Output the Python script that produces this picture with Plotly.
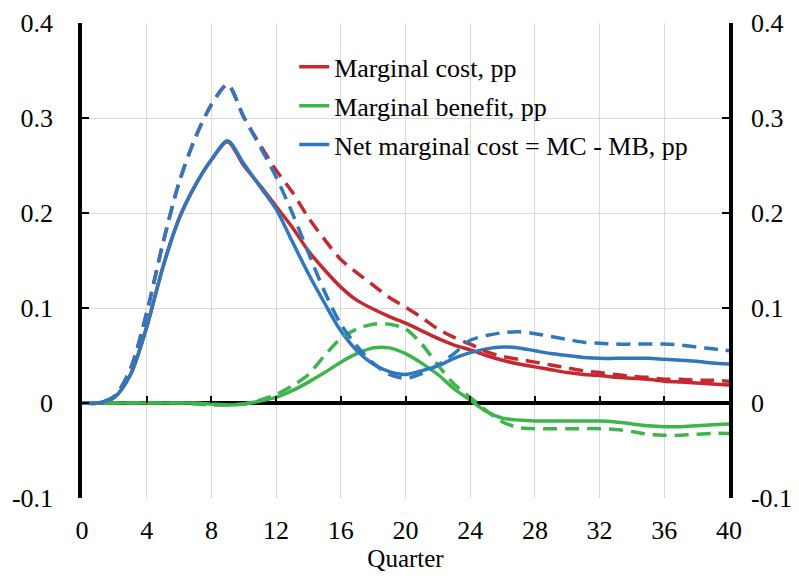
import plotly.graph_objects as go

# quarterly horizon
quarters = list(range(41))

# solid lines (baseline)
mc_solid = [0, 0, 0.006, 0.03, 0.08, 0.143, 0.194, 0.229, 0.256, 0.275,
            0.25, 0.229, 0.207, 0.185, 0.16, 0.14, 0.122, 0.108, 0.099, 0.091,
            0.084, 0.076, 0.068, 0.061, 0.056, 0.05, 0.045, 0.041, 0.038, 0.035,
            0.032, 0.03, 0.029, 0.027, 0.026, 0.025, 0.023, 0.022, 0.021, 0.02, 0.019]
mb_solid = [0, 0, 0, 0, 0, 0, 0, 0, -0.001, -0.002,
            -0.001, 0.002, 0.006, 0.013, 0.022, 0.032, 0.043, 0.052, 0.058, 0.058,
            0.052, 0.042, 0.03, 0.015, 0.003, -0.009, -0.016, -0.018, -0.019, -0.019,
            -0.019, -0.019, -0.019, -0.02, -0.022, -0.024, -0.025, -0.025, -0.024, -0.023, -0.022]
net_solid = [0, 0, 0.006, 0.03, 0.08, 0.143, 0.194, 0.229, 0.256, 0.276,
             0.252, 0.228, 0.204, 0.17, 0.136, 0.105, 0.076, 0.055, 0.041, 0.033,
             0.03, 0.034, 0.039, 0.047, 0.053, 0.057, 0.059, 0.058, 0.055, 0.052,
             0.05, 0.048, 0.047, 0.047, 0.047, 0.047, 0.046, 0.045, 0.044, 0.042, 0.041]

# dashed lines (alternative)
mc_dash = [0, 0, 0.007, 0.036, 0.095, 0.168, 0.232, 0.279, 0.314, 0.335,
           0.301, 0.272, 0.245, 0.222, 0.195, 0.172, 0.151, 0.137, 0.124, 0.111,
           0.101, 0.09, 0.078, 0.069, 0.062, 0.054, 0.049, 0.046, 0.043, 0.04,
           0.037, 0.034, 0.032, 0.03, 0.028, 0.027, 0.025, 0.025, 0.024, 0.024, 0.023]
mb_dash = [0, 0, 0, 0, 0, 0, 0, -0.001, -0.002, -0.002,
           -0.001, 0.003, 0.009, 0.018, 0.03, 0.05, 0.068, 0.078, 0.083, 0.083,
           0.078, 0.062, 0.04, 0.02, 0.006, -0.008, -0.02, -0.026, -0.027, -0.027,
           -0.027, -0.027, -0.027, -0.028, -0.03, -0.033, -0.034, -0.034, -0.033, -0.032, -0.032]
net_dash = [0, 0, 0.007, 0.036, 0.095, 0.168, 0.232, 0.279, 0.314, 0.335,
            0.301, 0.27, 0.238, 0.2, 0.158, 0.117, 0.083, 0.06, 0.042, 0.03,
            0.026, 0.031, 0.04, 0.052, 0.066, 0.071, 0.074, 0.075, 0.073, 0.07,
            0.067, 0.064, 0.063, 0.062, 0.062, 0.062, 0.062, 0.061, 0.059, 0.057, 0.055]

x_ticks = list(range(0, 41, 4))
y_ticks = [-0.1, 0, 0.1, 0.2, 0.3, 0.4]
y_ticktext = ["-0.1", "0", "0.1", "0.2", "0.3", "0.4"]

RED = "#C5282F"
GREEN = "#3DB54A"
BLUE = "#2F78BE"
FONT = "Liberation Serif, DejaVu Serif, serif"

fig = go.Figure()

dashed = [(mc_dash, RED), (mb_dash, GREEN), (net_dash, BLUE)]
for ys, col in dashed:
    fig.add_trace(go.Scatter(x=quarters, y=ys, mode="lines", showlegend=False,
                             line=dict(color=col, width=3.5, dash="14px,8px", shape="spline", smoothing=0.8),
                             xaxis="x2", yaxis="y2"))

solid = [(mc_solid, RED, "Marginal cost, pp"),
         (mb_solid, GREEN, "Marginal benefit, pp"),
         (net_solid, BLUE, "Net marginal cost = MC - MB, pp")]
for i, (ys, col, name) in enumerate(solid):
    fig.add_trace(go.Scatter(x=quarters, y=ys, mode="lines", name=name, legendgroup=str(i),
                             line=dict(color=col, width=3.5, shape="spline", smoothing=0.8)))

grid = "#D9D9D9"
# page body has an 8px margin, so the figure is sized to the visible area
fig.update_layout(
    width=791, height=572,
    margin=dict(l=74, r=70, t=14.5, b=81.5, autoexpand=False),
    paper_bgcolor="white", plot_bgcolor="white",
    font=dict(family=FONT, size=26, color="black"),
    showlegend=True,
    legend=dict(x=0.328, y=0.957, xanchor="left", yanchor="top",
                bgcolor="rgba(0,0,0,0)", font=dict(size=26), tracegroupgap=2),
    xaxis=dict(range=[0, 40], tickvals=x_ticks, showgrid=True, gridcolor=grid, gridwidth=1,
               showline=False, zeroline=False, ticks="", ticklabelstandoff=14, automargin=False,
               title=dict(text="Quarter", font=dict(size=25), standoff=0)),
    xaxis2=dict(range=[0, 40], matches="x", overlaying="x", anchor="free", position=0.2,
                side="bottom", tickvals=x_ticks, ticks="inside", ticklen=7, tickwidth=2,
                tickcolor="black", showticklabels=False, showgrid=False, zeroline=False,
                showline=False, automargin=False),
    yaxis=dict(range=[-0.1, 0.4], tickvals=y_ticks, ticktext=y_ticktext, showgrid=True,
               gridcolor=grid, gridwidth=1, zeroline=True, zerolinecolor="black", zerolinewidth=3.5,
               showline=True, linecolor="black", linewidth=3.5, ticks="inside", ticklen=7,
               tickwidth=2, tickcolor="black", ticklabelstandoff=20, automargin=False),
    yaxis2=dict(range=[-0.1, 0.4], matches="y", overlaying="y", side="right", anchor="x",
                tickvals=y_ticks, ticktext=y_ticktext, showgrid=False, zeroline=False,
                showline=True, linecolor="black", linewidth=3.5, ticks="inside", ticklen=7,
                tickwidth=2, tickcolor="black", ticklabelstandoff=13, automargin=False),
)

fig.write_html("out.html")
